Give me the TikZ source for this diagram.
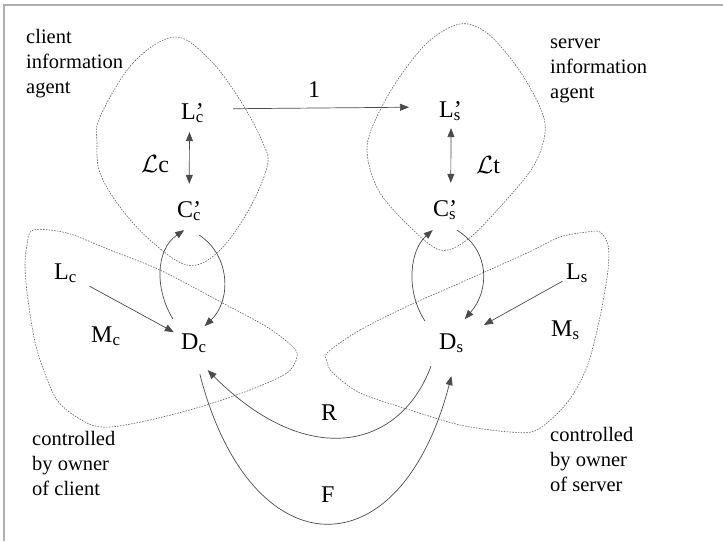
\documentclass[tikz,border=0pt]{standalone}
\usepackage{fontspec}
\setmainfont{Liberation Serif}
\usetikzlibrary{arrows.meta}
\definecolor{linecolor}{RGB}{75,75,75}
\definecolor{blobcolor}{RGB}{100,100,100}
\definecolor{framecolor}{RGB}{175,175,175}
\newcommand{\lsub}[2]{#1\textsubscript{#2}}
\newcommand{\lpr}[2]{#1\rlap{’}\textsubscript{#2}}

\begin{document}
\begin{tikzpicture}[x=1pt, y=-1pt,
  lbl/.style={font=\fontsize{24}{28}\selectfont, inner sep=1pt, anchor=base west},
  note/.style={font=\rmfamily\fontsize{20.5}{25}\selectfont, align=left, inner sep=0pt, anchor=base west},
  arr/.style={-{Triangle[length=9pt,width=7pt]}, linecolor, line width=0.7pt},
  darr/.style={{Triangle[length=9pt,width=7pt]}-{Triangle[length=9pt,width=7pt]}, linecolor, line width=0.7pt},
  blob/.style={blobcolor, line width=0.6pt, dash pattern=on 1.6pt off 1.2pt},
]
\useasboundingbox (0,0) rectangle (723,541);
\draw[framecolor, line width=2pt] (4,541) -- (4,5) -- (723,5);

% ---------- regions ----------
\draw[blob] plot[smooth cycle, tension=0.6] coordinates {
  (175,37) (133,63) (100,117) (97,143) (100,173) (120,207) (150,240) (187,265)
  (217,253) (247,213) (267,167) (263,143) (240,100) (210,60)};
\draw[blob] plot[smooth cycle, tension=0.55] coordinates {
  (460,24) (427,43) (393,87) (370,133) (368,160) (380,193) (410,227) (440,250)
  (467,240) (500,207) (533,167) (545,133) (540,107) (517,67) (487,33)};
\draw[blob] plot[smooth cycle, tension=0.5] coordinates {
  (33,230) (67,233) (110,250) (160,270) (217,300) (267,327) (293,347) (297,357)
  (287,373) (250,390) (200,407) (150,420) (110,427) (87,423) (57,400) (37,350)
  (28,300) (25,267) (27,245)};
\draw[blob] plot[smooth cycle, tension=0.5] coordinates {
  (328,352) (360,330) (410,305) (460,283) (527,253) (560,237) (587,232) (600,232)
  (608,245) (608,270) (600,317) (587,367) (567,403) (537,430) (510,432) (460,425)
  (410,410) (360,393) (333,373) (327,362)};

% ---------- texts ----------
\node[note] (cia) at (26,93) {client\\information\\agent};
\node[note] (sia) at (550,98) {server\\information\\agent};
\node[note] (coc) at (32,495) {controlled\\by owner\\of client};
\node[note] (cos) at (550,491) {controlled\\by owner\\of server};

% ---------- labels ----------
\node[lbl] (Lcp) at (180,119) {\lpr{L}{c}};
\node[lbl] (Ccp) at (176,217) {\lpr{C}{c}};
\node[lbl] (Lsp) at (438,117) {\lpr{L}{s}};
\node[lbl] (Csp) at (432,216) {\lpr{C}{s}};
\node[lbl] (Lc) at (53,279) {\lsub{L}{c}};
\node[lbl] (Mc) at (90,342) {\lsub{M}{c}};
\node[lbl] (Dc) at (180,349) {\lsub{D}{c}};
\node[lbl] (Ds) at (438,349) {\lsub{D}{s}};
\node[lbl] (Ls) at (565,279) {\lsub{L}{s}};
\node[lbl] (Ms) at (550,336) {\lsub{M}{s}};
\node[lbl] (calLc) at (140,172) {$\mathcal{L}$c};
\node[lbl] (calLt) at (475,173) {$\mathcal{L}$t};
\node[lbl] (one) at (307,97) {1};
\node[lbl] (R) at (320,420) {R};
\node[lbl] (F) at (320,502) {F};

% ---------- arrows ----------
\draw[darr, shorten <=8pt, shorten >=16pt] ([xshift=-3pt]Lcp.south) -- ([xshift=0pt]Ccp.north);
\draw[darr, shorten <=6pt, shorten >=16pt] ([xshift=1pt]Lsp.south) -- ([xshift=6pt]Csp.north);
\draw[arr, shorten <=28pt, shorten >=29pt] ([yshift=4pt]Lcp.east) -- ([yshift=4pt]Lsp.west);
\draw[arr, shorten <=13pt, shorten >=7pt] (Lc) -- (Dc);
\draw[arr, shorten <=3pt, shorten >=22pt] (Ls) -- (Ds);

\draw[arr] ([shift={(-7,-13)}]Dc.north west) .. controls (155,290) and (155,250) .. ([shift={(-5,8)}]Ccp.south);
\draw[arr] ([shift={(10,13)}]Ccp.south) .. controls (230,255) and (232,300) .. ([shift={(-3,-6)}]Dc.north east);
\draw[arr] ([shift={(-13,-11)}]Ds.north west) .. controls (405,290) and (410,250) .. ([shift={(-12,9)}]Csp.south);
\draw[arr] ([shift={(12,9)}]Csp.south) .. controls (490,250) and (490,290) .. ([shift={(0,-13)}]Ds.north east);

\draw[arr] ([shift={(-7,12)}]Ds.south west) .. controls (400,450) and (307,470) .. ([shift={(0,16)}]Dc.south east);
\draw[arr] ([shift={(6,20)}]Dc.south) .. controls (250,570) and (400,575) .. ([shift={(0,22)}]Ds.south);

\end{tikzpicture}
\end{document}
